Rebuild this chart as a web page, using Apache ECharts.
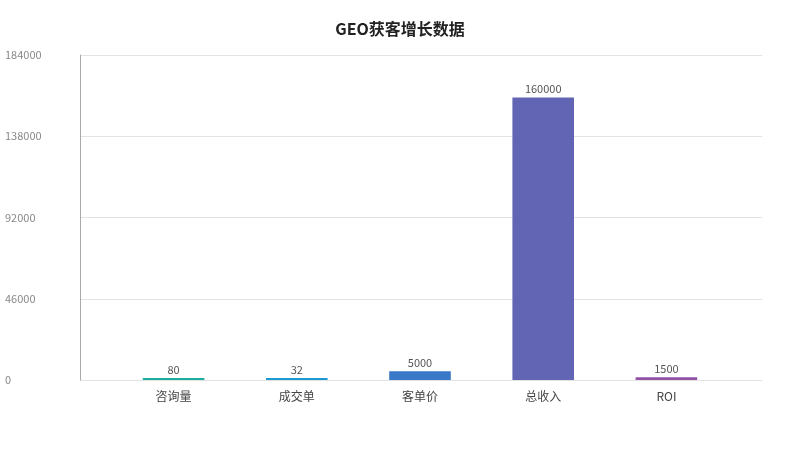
<!DOCTYPE html>
<html>
<head>
<meta charset="utf-8">
<script src="https://cdn.jsdelivr.net/npm/echarts@6/dist/echarts.min.js"></script>
<style>html,body{margin:0;padding:0;background:#fff}#c{width:800px;height:450px}</style>
</head>
<body>
<div id="c"></div>
<script>
var categories = ['咨询量', '成交单', '客单价', '总收入', 'ROI'];
var values = [80, 32, 5000, 160000, 1500];
var barColors = ['#1aae9f', '#1e9ad2', '#3a78c8', '#6264b4', '#9351a6'];
var yTicks = [0, 46000, 92000, 138000, 184000];

var font = '"Noto Sans CJK SC", "Noto Sans", sans-serif';
var chart = echarts.init(document.getElementById('c'));
chart.setOption({
  backgroundColor: '#fff',
  textStyle: { fontFamily: font },
  title: {
    text: 'GEO获客增长数据',
    left: 'center',
    top: 16,
    textStyle: { fontSize: 16, fontWeight: 'bold', color: '#222', fontFamily: font }
  },
  grid: [
    { left: 80, right: 38, top: 55, bottom: 70 },
    { left: 112, right: 72, top: 55, bottom: 70 }
  ],
  xAxis: [
    { gridIndex: 0, type: 'category', data: categories, show: false },
    {
      gridIndex: 1, type: 'category', data: categories,
      axisLine: { show: false }, axisTick: { show: false },
      axisLabel: { color: '#444', fontSize: 12, margin: 10, fontFamily: font }
    }
  ],
  yAxis: [
    {
      gridIndex: 0, type: 'value', min: yTicks[0], max: yTicks[yTicks.length - 1],
      interval: yTicks[1] - yTicks[0],
      axisLine: { show: true, lineStyle: { color: '#aaa' } },
      axisTick: { show: false },
      splitLine: { show: true, lineStyle: { color: '#e3e3e3' } },
      axisLabel: {
        color: '#888', fontSize: 11, align: 'left', margin: 75, fontFamily: font,
        formatter: function (v) { return String(v); }
      }
    },
    {
      gridIndex: 1, type: 'value', min: yTicks[0], max: yTicks[yTicks.length - 1],
      interval: yTicks[1] - yTicks[0], show: false,
      splitLine: { show: false }
    }
  ],
  series: [{
    type: 'bar',
    xAxisIndex: 1,
    yAxisIndex: 1,
    barWidth: '50%',
    barMinHeight: 2,
    data: values.map(function (v, i) { return { value: v, itemStyle: { color: barColors[i] } }; }),
    label: { show: true, position: 'top', color: '#555', fontSize: 11, distance: 3, fontFamily: font }
  }]
});
</script>
</body>
</html>
